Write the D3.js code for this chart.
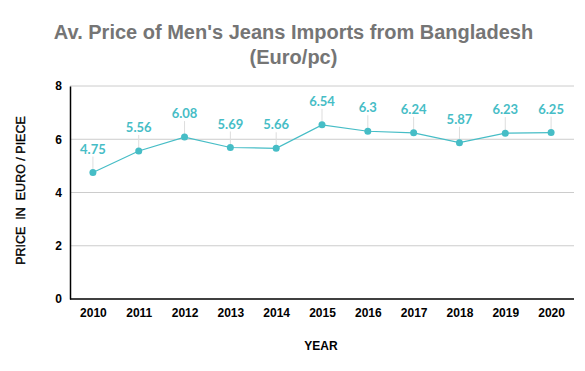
<!DOCTYPE html>
<meta charset="utf-8">
<html>
<head>
<style>
  body { margin: 0; background: #fff; }
  text { font-family: Arial, "Liberation Sans", sans-serif; }
</style>
</head>
<body>
<div id="chart"></div>
<script src="https://d3js.org/d3.v7.min.js"></script>
<script>

// data
var years = ["2010", "2011", "2012", "2013", "2014", "2015", "2016", "2017", "2018", "2019", "2020"];
var prices = [4.75, 5.56, 6.08, 5.69, 5.66, 6.54, 6.3, 6.24, 5.87, 6.23, 6.25];
var yTicks = [0, 2, 4, 6, 8];

var W = 585, H = 371;
var margin = {top: 86, right: 11, bottom: 72, left: 70},
    width = W - margin.left - margin.right,
    height = H - margin.top - margin.bottom;

var svg = d3.select("#chart")
  .append("svg")
    .attr("width", W)
    .attr("height", H);

// title
svg.append("text")
  .attr("x", W / 2 + 1)
  .attr("y", 39)
  .attr("text-anchor", "middle")
  .attr("font-size", "20px")
  .attr("font-weight", "bold")
  .attr("fill", "#757575")
  .text("Av. Price of Men's Jeans Imports from Bangladesh");
svg.append("text")
  .attr("x", W / 2 + 1)
  .attr("y", 64)
  .attr("text-anchor", "middle")
  .attr("font-size", "20px")
  .attr("font-weight", "bold")
  .attr("fill", "#757575")
  .text("(Euro/pc)");

var g = svg.append("g")
  .attr("transform", "translate(" + margin.left + "," + margin.top + ")");

var x = d3.scalePoint()
  .domain(years)
  .range([0, width])
  .padding(0.5);

var y = d3.scaleLinear()
  .domain([0, 8])
  .range([height, 0]);

// gridlines
g.selectAll(".grid")
  .data(yTicks.filter(function(d) { return d > 0; }))
  .enter().append("line")
    .attr("x1", 0)
    .attr("x2", width)
    .attr("y1", function(d) { return y(d); })
    .attr("y2", function(d) { return y(d); })
    .attr("stroke", "#cccccc")
    .attr("stroke-width", 1);

// y axis
var yAxis = g.append("g")
  .call(d3.axisLeft(y).tickValues(yTicks).tickSize(0).tickPadding(8).tickFormat(d3.format("d")));
yAxis.select(".domain").attr("stroke", "#000").attr("stroke-width", 1.5);
yAxis.selectAll("text")
  .attr("font-size", "12px")
  .attr("font-weight", "bold")
  .attr("fill", "#000");

// x axis
var xAxis = g.append("g")
  .attr("transform", "translate(0," + height + ")")
  .call(d3.axisBottom(x).tickSize(0).tickPadding(9));
xAxis.select(".domain").attr("stroke", "#000").attr("stroke-width", 1.5)
  .attr("d", "M0,0H" + width);
xAxis.selectAll("text")
  .attr("font-size", "12px")
  .attr("font-weight", "bold")
  .attr("fill", "#000");

// axis titles
svg.append("text")
  .attr("x", margin.left + width / 2 - 1)
  .attr("y", 350)
  .attr("text-anchor", "middle")
  .attr("font-size", "12px")
  .attr("font-weight", "bold")
  .text("YEAR");
svg.append("text")
  .attr("transform", "translate(25," + (margin.top + height / 2 - 2) + ") rotate(-90)")
  .attr("text-anchor", "middle")
  .attr("font-size", "12.5px")
  .attr("font-weight", "normal")
  .attr("stroke", "#000")
  .attr("stroke-width", 0.35)
  .attr("xml:space", "preserve")
  .style("white-space", "pre")
  .text("PRICE  IN  EURO / PIECE");

var color = "#46bdc6";

// leader lines
g.selectAll(".leader")
  .data(prices)
  .enter().append("line")
    .attr("x1", function(d, i) { return x(years[i]); })
    .attr("x2", function(d, i) { return x(years[i]); })
    .attr("y1", function(d) { return y(d) - 3; })
    .attr("y2", function(d) { return y(d) - 16; })
    .attr("stroke", "#dddddd")
    .attr("stroke-width", 1);

// line
g.append("path")
  .datum(prices)
  .attr("fill", "none")
  .attr("stroke", color)
  .attr("stroke-width", 1.2)
  .attr("d", d3.line()
    .x(function(d, i) { return x(years[i]); })
    .y(function(d) { return y(d); }));

// points
g.selectAll(".pt")
  .data(prices)
  .enter().append("circle")
    .attr("cx", function(d, i) { return x(years[i]); })
    .attr("cy", function(d) { return y(d); })
    .attr("r", 3.5)
    .attr("fill", color);

// labels
g.selectAll(".lbl")
  .data(prices)
  .enter().append("text")
    .attr("x", function(d, i) { return x(years[i]); })
    .attr("y", function(d) { return y(d) - 19; })
    .attr("text-anchor", "middle")
    .attr("font-size", "13px")
    .attr("font-weight", "bold")
    .attr("fill", color)
    .style("font-family", "Lato, Arial, sans-serif")
    .text(function(d) { return d; });

</script>
</body>
</html>
